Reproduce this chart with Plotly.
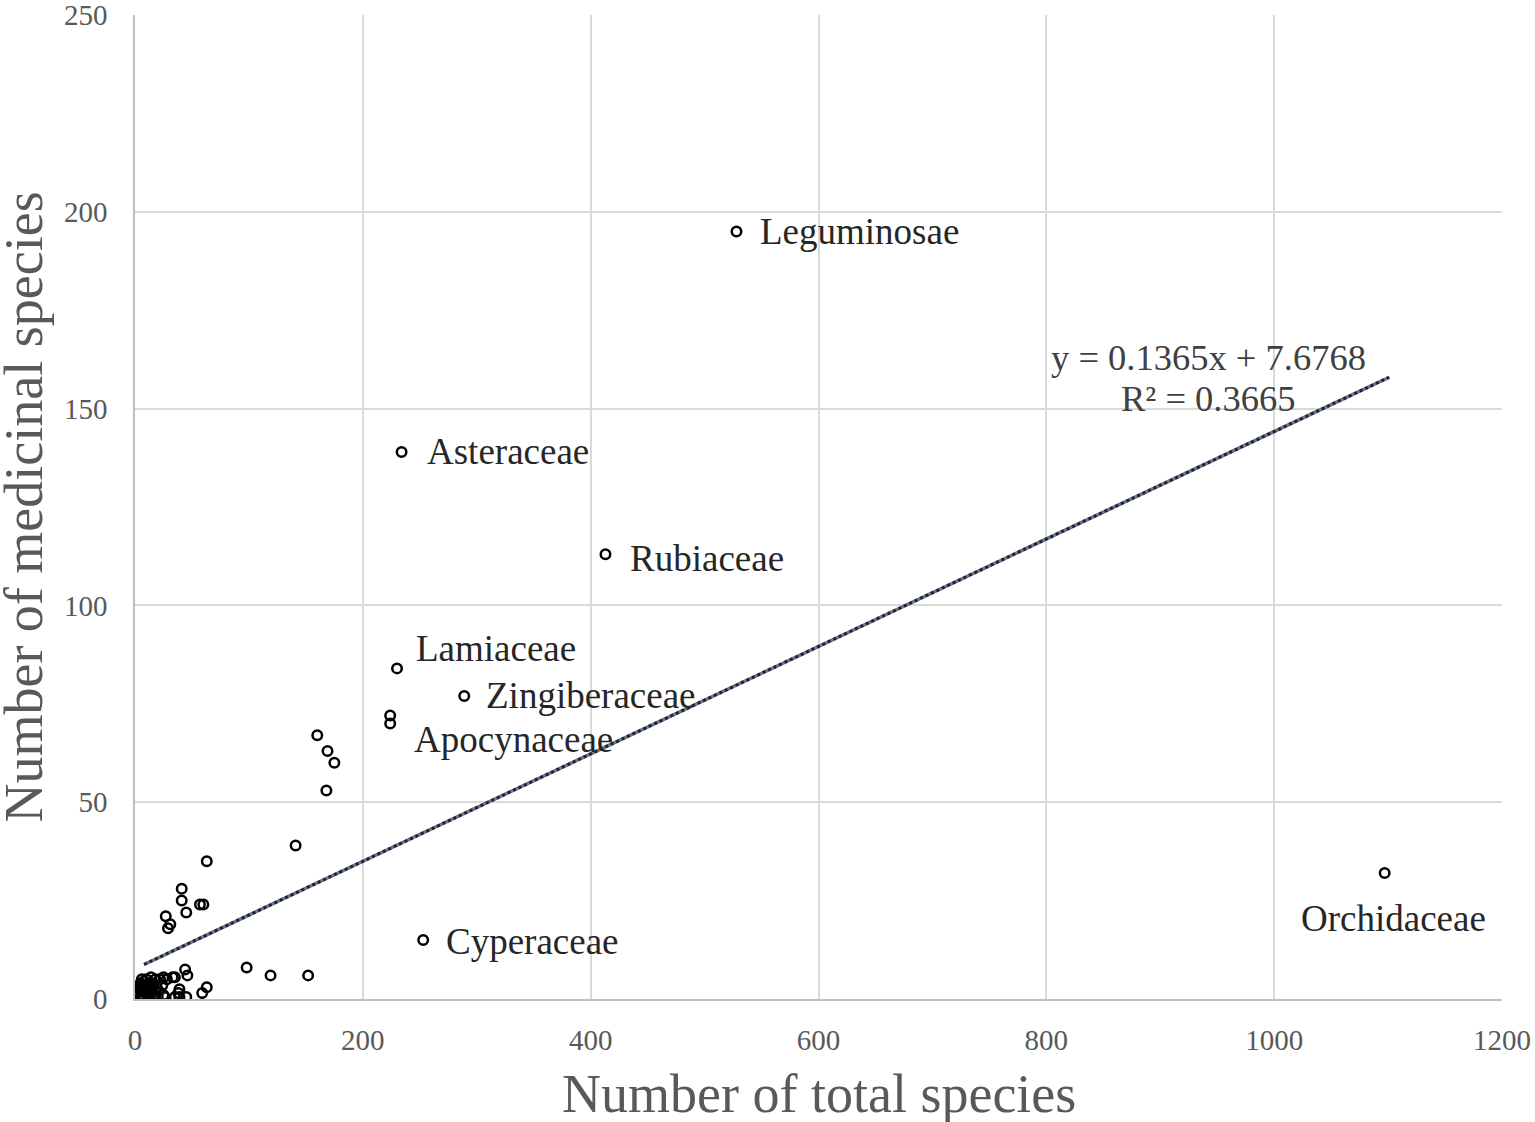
import plotly.graph_objects as go

# Family totals vs medicinal species
total_species = [528, 234, 413, 230, 289, 224, 224, 160, 169, 175, 168, 141, 1097, 253,
                 63, 41, 41, 45, 57, 60, 27, 31, 29, 98, 119, 152, 63, 59, 44, 46, 45,
                 35, 28, 25, 39, 39, 35, 26, 38, 33,
                 5, 5, 5, 5, 6, 6, 7, 7, 8, 8, 9, 9, 10, 11, 11, 12, 13, 14, 14, 15,
                 16, 17, 18, 19, 20, 21, 22, 24, 25, 12, 16]
medicinal_species = [195, 139, 113, 84, 77, 72, 70, 67, 63, 60, 53, 39, 32, 15,
                     35, 28, 25, 22, 24, 24, 21, 19, 18, 8, 6, 6, 3, 1.5, 7.5, 6, 0.5,
                     5.5, 5, 5.5, 2.5, 0.5, 0.5, 0.5, 1.5, 5.5,
                     0.5, 2, 3, 4, 1, 5, 2, 3.5, 0.5, 4.5, 1.5, 3, 5, 2, 0.5, 4, 3, 1, 5.5, 2.5,
                     4, 1, 5, 3, 0.5, 2, 5, 3.5, 1, 1.5, 0.5]

# labelled families: name, label anchor (x, y)
label_names = ["Leguminosae", "Asteraceae", "Rubiaceae", "Lamiaceae", "Zingiberaceae",
               "Apocynaceae", "Cyperaceae", "Orchidaceae"]
label_x = [547, 255, 433, 245, 306, 243, 271, 1022]
label_y = [195, 139, 112, 89, 77, 66, 14.5, 20.5]

# linear trend from the chart
slope = 0.1365
intercept = 7.6768
trend_x = [8, 1101]
trend_y = [slope * v + intercept for v in trend_x]

serif = "Liberation Serif"

fig = go.Figure()

fig.add_trace(go.Scatter(
    x=trend_x, y=trend_y, mode="lines",
    line=dict(color="#6f7584", width=3.5),
    hoverinfo="skip", showlegend=False,
))
fig.add_trace(go.Scatter(
    x=trend_x, y=trend_y, mode="lines",
    line=dict(color="#19223d", width=3, dash="dot"),
    hoverinfo="skip", showlegend=False,
))

fig.add_trace(go.Scatter(
    x=total_species, y=medicinal_species, mode="markers",
    marker=dict(symbol="circle-open", size=9.5, color="black", line=dict(width=2.5)),
    showlegend=False,
))

for name, lx, ly in zip(label_names, label_x, label_y):
    fig.add_annotation(x=lx, y=ly, text=name, showarrow=False,
                       xanchor="left", yanchor="middle",
                       font=dict(family=serif, size=37, color="#262626"))

# trendline equation
fig.add_annotation(x=942, y=163, text="y = %.4fx + %.4f" % (slope, intercept),
                   showarrow=False, xanchor="center", yanchor="middle",
                   font=dict(family=serif, size=36.5, color="#404040"))
fig.add_annotation(x=942, y=152.5, text="R² = 0.3665",
                   showarrow=False, xanchor="center", yanchor="middle",
                   font=dict(family=serif, size=36.5, color="#404040"))

# axis titles
fig.add_annotation(xref="paper", yref="paper", x=0.5, y=-0.0966,
                   text="Number of total species", showarrow=False,
                   xanchor="center", yanchor="middle",
                   font=dict(family=serif, size=54, color="#595959"))
fig.add_annotation(xref="paper", yref="paper", x=-0.0815, y=0.5,
                   text="Number of medicinal species", showarrow=False, textangle=-90,
                   xanchor="center", yanchor="middle",
                   font=dict(family=serif, size=54, color="#595959"))

fig.update_xaxes(
    range=[0, 1200], dtick=200, showgrid=True, gridcolor="#d9d9d9", gridwidth=1.5,
    showline=True, linecolor="#bfbfbf", linewidth=1.5, zeroline=False,
    ticks="outside", ticklen=14, tickcolor="white", ticklabeloverflow="allow",
    automargin=False,
    tickfont=dict(family=serif, size=29, color="#595959"),
)
fig.update_yaxes(
    range=[0, 250.001], dtick=50, showgrid=True, gridcolor="#d9d9d9", gridwidth=1.5,
    showline=True, linecolor="#bfbfbf", linewidth=1.5, zeroline=False,
    ticks="outside", ticklen=20, tickcolor="white", ticklabeloverflow="allow",
    automargin=False,
    tickfont=dict(family=serif, size=29, color="#595959"),
)

fig.update_layout(
    width=1535, height=1122,
    margin=dict(l=135, r=33, t=15, b=123, autoexpand=False),
    plot_bgcolor="white", paper_bgcolor="white",
)

# drop the default page margin so the figure sits at the window's corner
fig.write_html("out.html", config={"displayModeBar": False},
               post_script="document.body.style.margin='0';")
